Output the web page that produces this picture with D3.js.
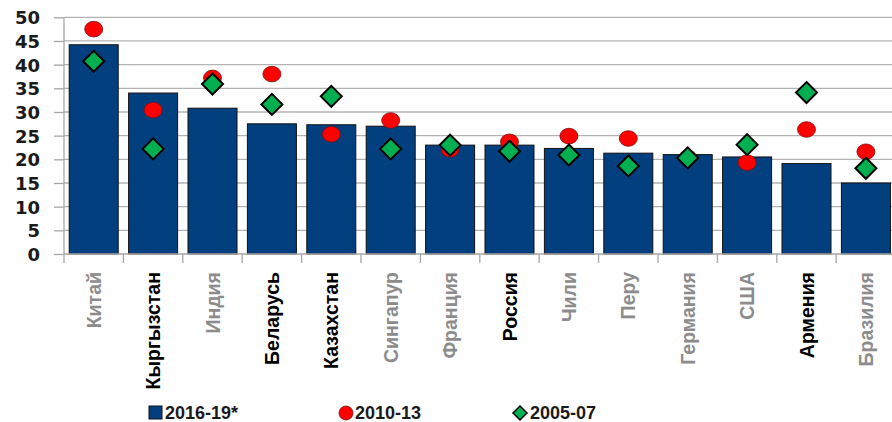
<!DOCTYPE html>
<html><head><meta charset="utf-8">
<script src="https://cdn.jsdelivr.net/npm/d3@7/dist/d3.min.js"></script>
<style>html,body{margin:0;padding:0;background:#fff;overflow:hidden}</style>
</head><body>
<svg id="c" width="892" height="422"></svg>
<script>
const categories = ["Китай","Кыргызстан","Индия","Беларусь","Казахстан","Сингапур","Франция","Россия","Чили","Перу","Германия","США","Армения","Бразилия"];
const highlighted = ["Кыргызстан","Беларусь","Казахстан","Россия","Армения"];
const s2016 = [44.2, 34.0, 30.8, 27.5, 27.3, 27.0, 23.0, 23.0, 22.3, 21.3, 21.0, 20.5, 19.1, 15.0];
const s2010 = [47.5, 30.4, 37.2, 38.0, 25.3, 28.2, 22.1, 23.7, 24.9, 24.4, 20.3, 19.3, 26.3, 21.6];
const s2005 = [40.7, 22.2, 35.9, 31.6, 33.3, 22.2, 23.0, 21.7, 20.9, 18.6, 20.3, 23.1, 34.1, 18.1];
const yTicks = [0,5,10,15,20,25,30,35,40,45,50];
const seriesNames = ["2016-19*","2010-13","2005-07"];

const svg = d3.select("#c");
const x = d3.scaleBand().domain(categories).range([64, 64 + 14*59.4]).paddingInner(0.175).paddingOuter(0.0875);
const y = d3.scaleLinear().domain([0,50]).range([254, 17.3]);
const step = x.step();

// gridlines
svg.append("g").selectAll("line").data(yTicks.filter(d=>d>0)).join("line")
  .attr("x1",64).attr("x2",892).attr("y1",d=>y(d)).attr("y2",d=>y(d))
  .attr("stroke","#b3b3b3").attr("stroke-width",1.3);

// y axis
const yAxis = svg.append("g").attr("transform","translate(64,0)")
  .call(d3.axisLeft(y).tickValues(yTicks).tickSize(10).tickPadding(14).tickFormat(d3.format("d")));
yAxis.select(".domain").remove();
yAxis.selectAll(".tick line").attr("stroke","#a6a6a6").attr("stroke-width",1.3);
yAxis.selectAll("text").attr("font-family","'DejaVu Sans', sans-serif").attr("font-weight","bold")
  .attr("font-size","18px").attr("fill","#1a1a1a").attr("dy","0.36em");
svg.append("line").attr("x1",64).attr("x2",64).attr("y1",y(50)).attr("y2",263)
  .attr("stroke","#a6a6a6").attr("stroke-width",1.3);

// bars
svg.append("g").selectAll("rect").data(categories).join("rect")
  .attr("x",d=>x(d)).attr("width",x.bandwidth())
  .attr("y",(d,i)=>y(s2016[i])).attr("height",(d,i)=>y(0)-y(s2016[i]))
  .attr("fill","#023f7f").attr("stroke","#111").attr("stroke-width",1);

// x axis line and ticks
svg.append("line").attr("x1",64).attr("x2",892).attr("y1",y(0)).attr("y2",y(0))
  .attr("stroke","#a6a6a6").attr("stroke-width",1.3);
svg.append("g").selectAll("line").data(categories).join("line")
  .attr("x1",d=>x(d)-x.paddingInner()*step/2+step).attr("x2",d=>x(d)-x.paddingInner()*step/2+step)
  .attr("y1",y(0)).attr("y2",263).attr("stroke","#a6a6a6").attr("stroke-width",1.3);

// category labels
svg.append("g").selectAll("text").data(categories).join("text")
  .attr("transform",d=>`translate(${x(d)+x.bandwidth()/2},272) rotate(-90)`)
  .attr("text-anchor","end").attr("dy","0.36em")
  .attr("font-family","'Liberation Sans', Arial, sans-serif").attr("font-weight","bold")
  .attr("font-size","19.5px")
  .attr("fill",d=>highlighted.includes(d) ? "#000" : "#8c8c8c")
  .text(d=>d);

// 2010-13 circles
svg.append("g").selectAll("ellipse").data(categories).join("ellipse")
  .attr("cx",d=>x(d)+x.bandwidth()/2).attr("cy",(d,i)=>y(s2010[i]))
  .attr("rx",9).attr("ry",7.8).attr("fill","#ff0000").attr("stroke","#7a1010").attr("stroke-width",0.8);

// 2005-07 diamonds
const dia = (cx,cy,r)=>`M${cx},${cy-r}L${cx+r},${cy}L${cx},${cy+r}L${cx-r},${cy}Z`;
svg.append("g").selectAll("path").data(categories).join("path")
  .attr("d",(d,i)=>dia(x(d)+x.bandwidth()/2, y(s2005[i]), 10.5))
  .attr("fill","#00b050").attr("stroke","#000").attr("stroke-width",2);

// legend
const lg = svg.append("g").attr("font-family","'Liberation Sans', Arial, sans-serif").attr("font-weight","bold")
  .attr("font-size","18px").attr("fill","#1a1a1a");
lg.append("rect").attr("x",149).attr("y",406).attr("width",13).attr("height",13)
  .attr("fill","#023f7f").attr("stroke","#111").attr("stroke-width",1);
lg.append("text").attr("x",165).attr("y",413).attr("dy","0.36em").text(seriesNames[0]);
lg.append("ellipse").attr("cx",346).attr("cy",413).attr("rx",7).attr("ry",7)
  .attr("fill","#ff0000").attr("stroke","#7a1010").attr("stroke-width",0.8);
lg.append("text").attr("x",355).attr("y",413).attr("dy","0.36em").text(seriesNames[1]);
lg.append("path").attr("d",dia(520,413,7)).attr("fill","#00b050").attr("stroke","#000").attr("stroke-width",1.5);
lg.append("text").attr("x",530).attr("y",413).attr("dy","0.36em").text(seriesNames[2]);
</script>
</body></html>
